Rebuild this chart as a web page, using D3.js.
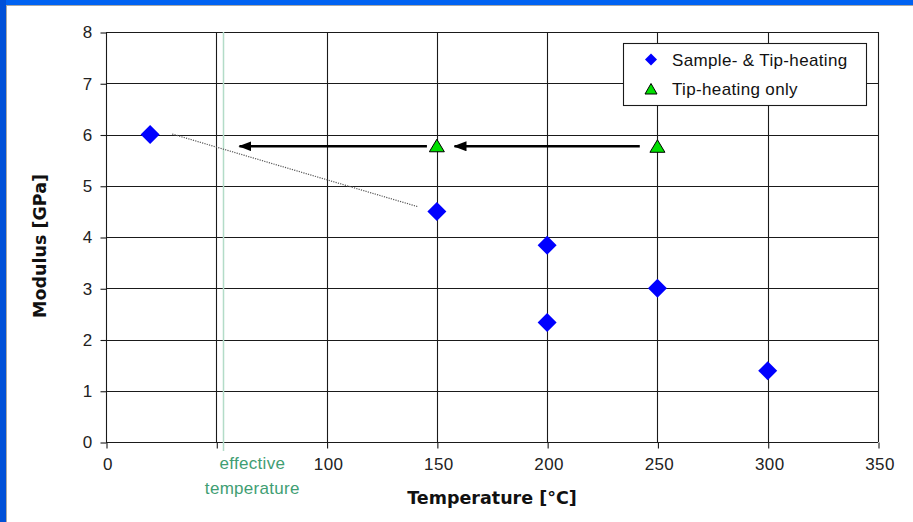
<!DOCTYPE html>
<html>
<head>
<meta charset="utf-8">
<script src="https://cdn.jsdelivr.net/npm/d3@7"></script>
<style>
  html, body { margin: 0; padding: 0; background: #fff; }
  svg { display: block; font-family: "Liberation Sans", Arial, sans-serif; }
</style>
</head>
<body>
<svg id="chart" width="913" height="522"></svg>
<script>
// Modulus measured with sample and tip heated together
const sampleTemps = [20, 150, 200, 200, 250, 300];
const sampleModulus = [6.0, 4.5, 3.84, 2.33, 3.0, 1.39];

// Modulus measured with only the tip heated
const tipTemps = [150, 250];
const tipModulus = [5.78, 5.77];

// Arrows pointing from tip-heated points to their effective temperature
const arrowFrom = [145.5, 242];
const arrowTo = [60.5, 158];
const arrowLevel = 5.77;

// Trend guide between sample-heated points
const guideTemps = [30, 141.5];
const guideModulus = [6.01, 4.59];

// Effective temperature marker
const effectiveTemp = 53.2;
const effectiveLabel = ["effective", "temperature"];

const xTicks = [0, 50, 100, 150, 200, 250, 300, 350];
const xTickLabels = ["0", "", "100", "150", "200", "250", "300", "350"];
const yTicks = [0, 1, 2, 3, 4, 5, 6, 7, 8];

const legendLabels = ["Sample- & Tip-heating", "Tip-heating only"];

const svg = d3.select("#chart");

// window frame
svg.append("rect").attr("x", 0).attr("y", 0).attr("width", 913).attr("height", 522).attr("fill", "#fff");
svg.append("rect").attr("x", 0).attr("y", 0).attr("width", 913).attr("height", 5).attr("fill", "#0062f2");
svg.append("rect").attr("x", 0).attr("y", 0).attr("width", 6).attr("height", 522).attr("fill", "#0050d8");
svg.append("line").attr("x1", 6).attr("x2", 913).attr("y1", 5.5).attr("y2", 5.5).attr("stroke", "#a8a8a8");
svg.append("line").attr("x1", 6.5).attr("x2", 6.5).attr("y1", 5).attr("y2", 522).attr("stroke", "#a8a8a8");

const x = d3.scaleLinear().domain([0, 350]).range([106, 878]);
const y = d3.scaleLinear().domain([0, 8]).range([442, 32]);

const grid = svg.append("g").attr("stroke", "#1a1a1a").attr("stroke-width", 1.1);
// horizontal grid
grid.selectAll("line.h").data(yTicks).join("line")
  .attr("x1", x(0)).attr("x2", x(350))
  .attr("y1", d => Math.round(y(d)) + 0.5).attr("y2", d => Math.round(y(d)) + 0.5);
// vertical grid
grid.selectAll("line.v").data(xTicks).join("line")
  .attr("x1", d => Math.round(x(d)) + 0.5).attr("x2", d => Math.round(x(d)) + 0.5)
  .attr("y1", y(8)).attr("y2", y(0));

// effective temperature line
svg.append("line")
  .attr("x1", Math.round(x(effectiveTemp)) + 0.5).attr("x2", Math.round(x(effectiveTemp)) + 0.5)
  .attr("y1", y(8)).attr("y2", y(0) + 9)
  .attr("stroke", "#b3dcc8").attr("stroke-width", 1.5);

// axes
const yAxis = d3.axisLeft(y).tickValues(yTicks).tickSize(6).tickPadding(8).tickFormat(d3.format("d"));
const xAxis = d3.axisBottom(x).tickValues(xTicks).tickSize(6).tickPadding(9)
  .tickFormat((d, i) => xTickLabels[i]);

const gy = svg.append("g").attr("transform", `translate(${x(0) + 0.5},0.5)`).call(yAxis);
const gx = svg.append("g").attr("transform", `translate(0.5,${y(0) + 0.5})`).call(xAxis);
[gx, gy].forEach(g => {
  g.select(".domain").remove();
  g.selectAll(".tick line").attr("stroke", "#1a1a1a").attr("stroke-width", 1.1);
  g.selectAll(".tick text").attr("fill", "#222").style("font-size", "17px")
    .style("font-family", "'Liberation Sans', Arial, sans-serif").style("letter-spacing", "0.4px");
});
gx.selectAll(".tick text").attr("dx", 1);

// axis titles
svg.append("text").attr("x", 492).attr("y", 504).attr("text-anchor", "middle")
  .style("font-weight", "bold").style("font-size", "17.5px").attr("fill", "#111")
  .style("font-family", "'DejaVu Sans', sans-serif")
  .text("Temperature [°C]");
svg.append("text").attr("transform", "translate(46,246) rotate(-90)").attr("text-anchor", "middle")
  .style("font-weight", "bold").style("font-size", "17.5px").attr("fill", "#111")
  .style("font-family", "'DejaVu Sans', sans-serif")
  .text("Modulus [GPa]");

// effective temperature label
svg.append("g").selectAll("text").data(effectiveLabel).join("text")
  .attr("x", x(effectiveTemp) + 29).attr("y", (d, i) => 469 + i * 24.5)
  .attr("text-anchor", "middle").attr("fill", "#3f9e73")
  .style("font-size", "17px").style("letter-spacing", "0.3px").text(d => d);

// dotted trend guide
svg.append("line")
  .attr("x1", x(guideTemps[0])).attr("y1", y(guideModulus[0]))
  .attr("x2", x(guideTemps[1])).attr("y2", y(guideModulus[1]))
  .attr("stroke", "#555").attr("stroke-width", 1.2).attr("stroke-dasharray", "1.2,1.2");

// arrows
const defs = svg.append("defs");
defs.append("marker").attr("id", "head").attr("viewBox", "0 0 13 10")
  .attr("refX", 12).attr("refY", 5).attr("markerWidth", 13).attr("markerHeight", 10)
  .attr("markerUnits", "userSpaceOnUse").attr("orient", "auto")
  .append("path").attr("d", "M13,5 L0,0 L0,10 Z").attr("fill", "#000");
svg.append("g").selectAll("line").data(arrowFrom).join("line")
  .attr("x1", d => x(d)).attr("x2", (d, i) => x(arrowTo[i]))
  .attr("y1", y(arrowLevel)).attr("y2", y(arrowLevel))
  .attr("stroke", "#000").attr("stroke-width", 2.5)
  .attr("marker-end", "url(#head)");

// sample & tip heating diamonds
const diamond = "M0,-9.5 L9.5,0 L0,9.5 L-9.5,0 Z";
svg.append("g").selectAll("path").data(sampleTemps).join("path")
  .attr("transform", (d, i) => `translate(${x(d)},${y(sampleModulus[i])})`)
  .attr("d", diamond).attr("fill", "#0000ff");

// tip heating only triangles
const tri = "M0,-6.5 L7.5,6 L-7.5,6 Z";
svg.append("g").selectAll("path").data(tipTemps).join("path")
  .attr("transform", (d, i) => `translate(${x(d)},${y(tipModulus[i])})`)
  .attr("d", tri).attr("fill", "#00e000").attr("stroke", "#000").attr("stroke-width", 1);

// legend
const lg = svg.append("g");
lg.append("rect").attr("x", 623.5).attr("y", 43.5).attr("width", 243).attr("height", 62)
  .attr("fill", "#fff").attr("stroke", "#1a1a1a").attr("stroke-width", 1.1);
lg.append("path").attr("transform", "translate(651,59.5)").attr("d", "M0,-6 L6,0 L0,6 L-6,0 Z").attr("fill", "#0000ff");
lg.append("path").attr("transform", "translate(651,89)").attr("d", "M0,-5.5 L6,5 L-6,5 Z")
  .attr("fill", "#00e000").attr("stroke", "#000").attr("stroke-width", 1);
lg.selectAll("text").data(legendLabels).join("text")
  .attr("x", 672).attr("y", (d, i) => 65.5 + i * 29.5)
  .attr("fill", "#111").style("font-size", "17px").style("letter-spacing", "0.35px").text(d => d);
</script>
</body>
</html>
